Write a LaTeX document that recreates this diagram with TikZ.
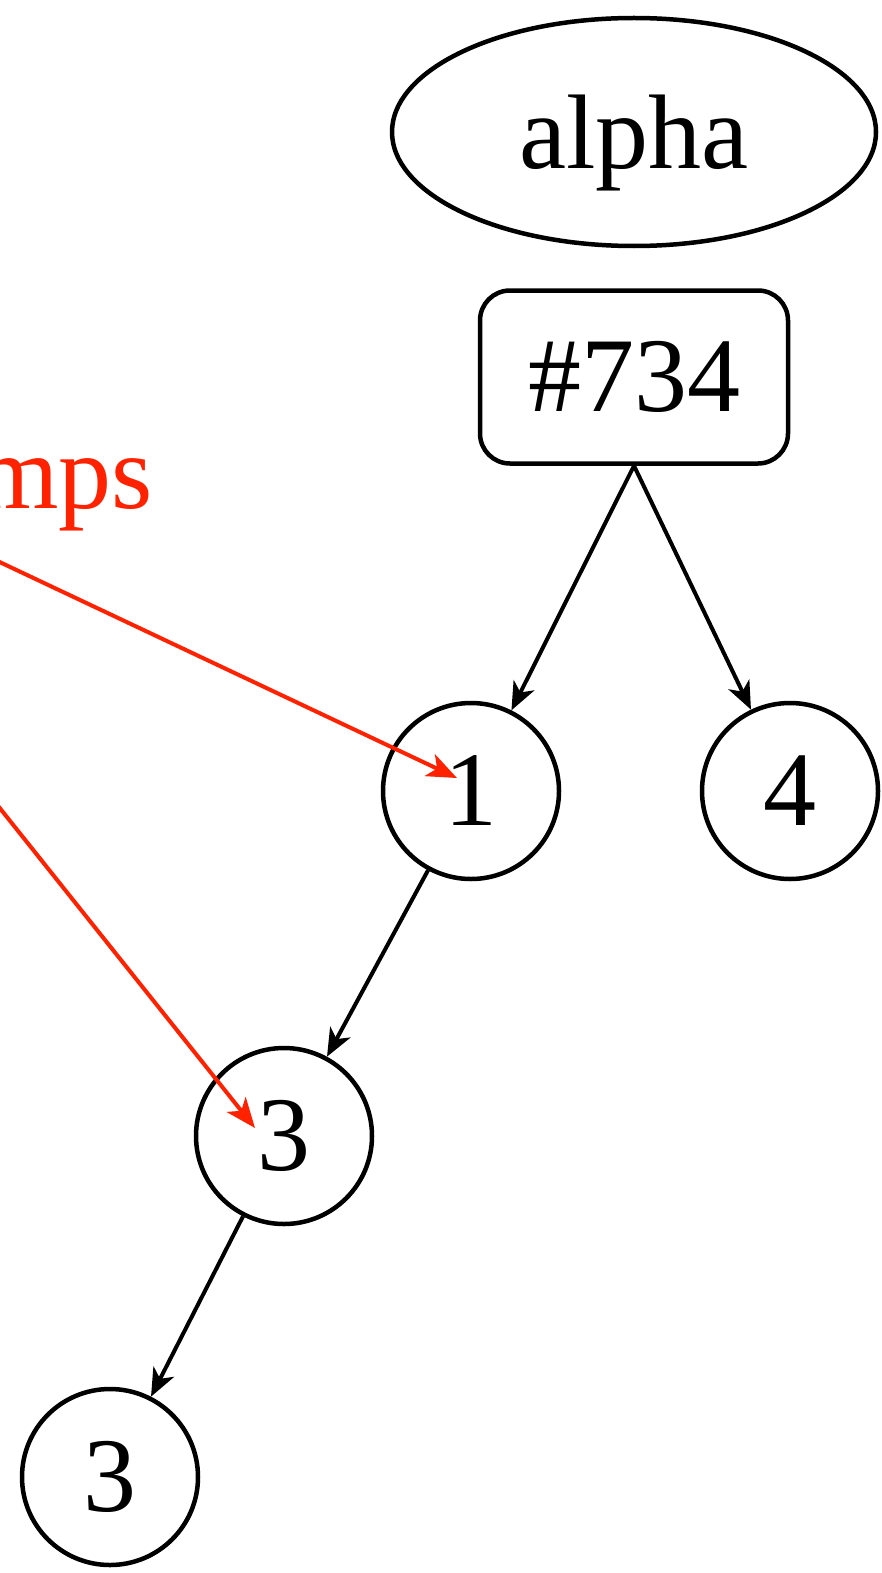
\documentclass[tikz,border=0pt]{standalone}
\usepackage{fontspec}
\setmainfont{Liberation Serif}
\usetikzlibrary{arrows.meta,shapes.geometric}
\definecolor{jumpred}{RGB}{255,34,0}
\begin{document}
\begin{tikzpicture}[x=1pt,y=-1pt,font=\fontsize{106}{125}\selectfont]
        \tikzstyle{num}=[circle,draw=black,line width=4.5pt,minimum size=176pt,inner sep=0pt]
        \tikzstyle{edge}=[draw=black,line width=4pt,-{Stealth[length=28pt,width=23pt,inset=8pt]}]
        \tikzstyle{jump}=[draw=jumpred,line width=4pt,-{Stealth[length=30pt,width=24pt,inset=8pt]}]
        \useasboundingbox (0,0) rectangle (882,1573);
        \node [ellipse,draw,line width=4.5pt,minimum width=484pt,minimum height=228pt,inner sep=0pt,text depth=0pt] (alpha) at (634,132) {alpha};
        \node [draw,line width=4.5pt,rounded corners=30pt,minimum width=308pt,minimum height=173pt,inner sep=0pt] (hash) at (634,377) {\#734};
        \node [num] (n1) at (471,791) {1};
        \node [num] (n4) at (790,791) {4};
        \node [num] (n3) at (284,1136) {3};
        \node [num] (m3) at (110,1477) {3};
        \node [text=jumpred,anchor=base east,inner sep=0pt] (jumps) at (153,508) {mps};
        \coordinate (j1) at (-100,515);
        \coordinate (j2) at (-100,683);
        \coordinate (t1) at (457,778);
        \coordinate (t3) at (255,1128);
        \draw[edge] (hash.south) -- (n1);
        \draw[edge] (hash.south) -- (n4);
        \draw[edge] (n1) -- (n3);
        \draw[edge] (n3) -- (m3);
        \draw[jump] (j1) -- (t1);
        \draw[jump] (j2) -- (t3);
\end{tikzpicture}
\end{document}
